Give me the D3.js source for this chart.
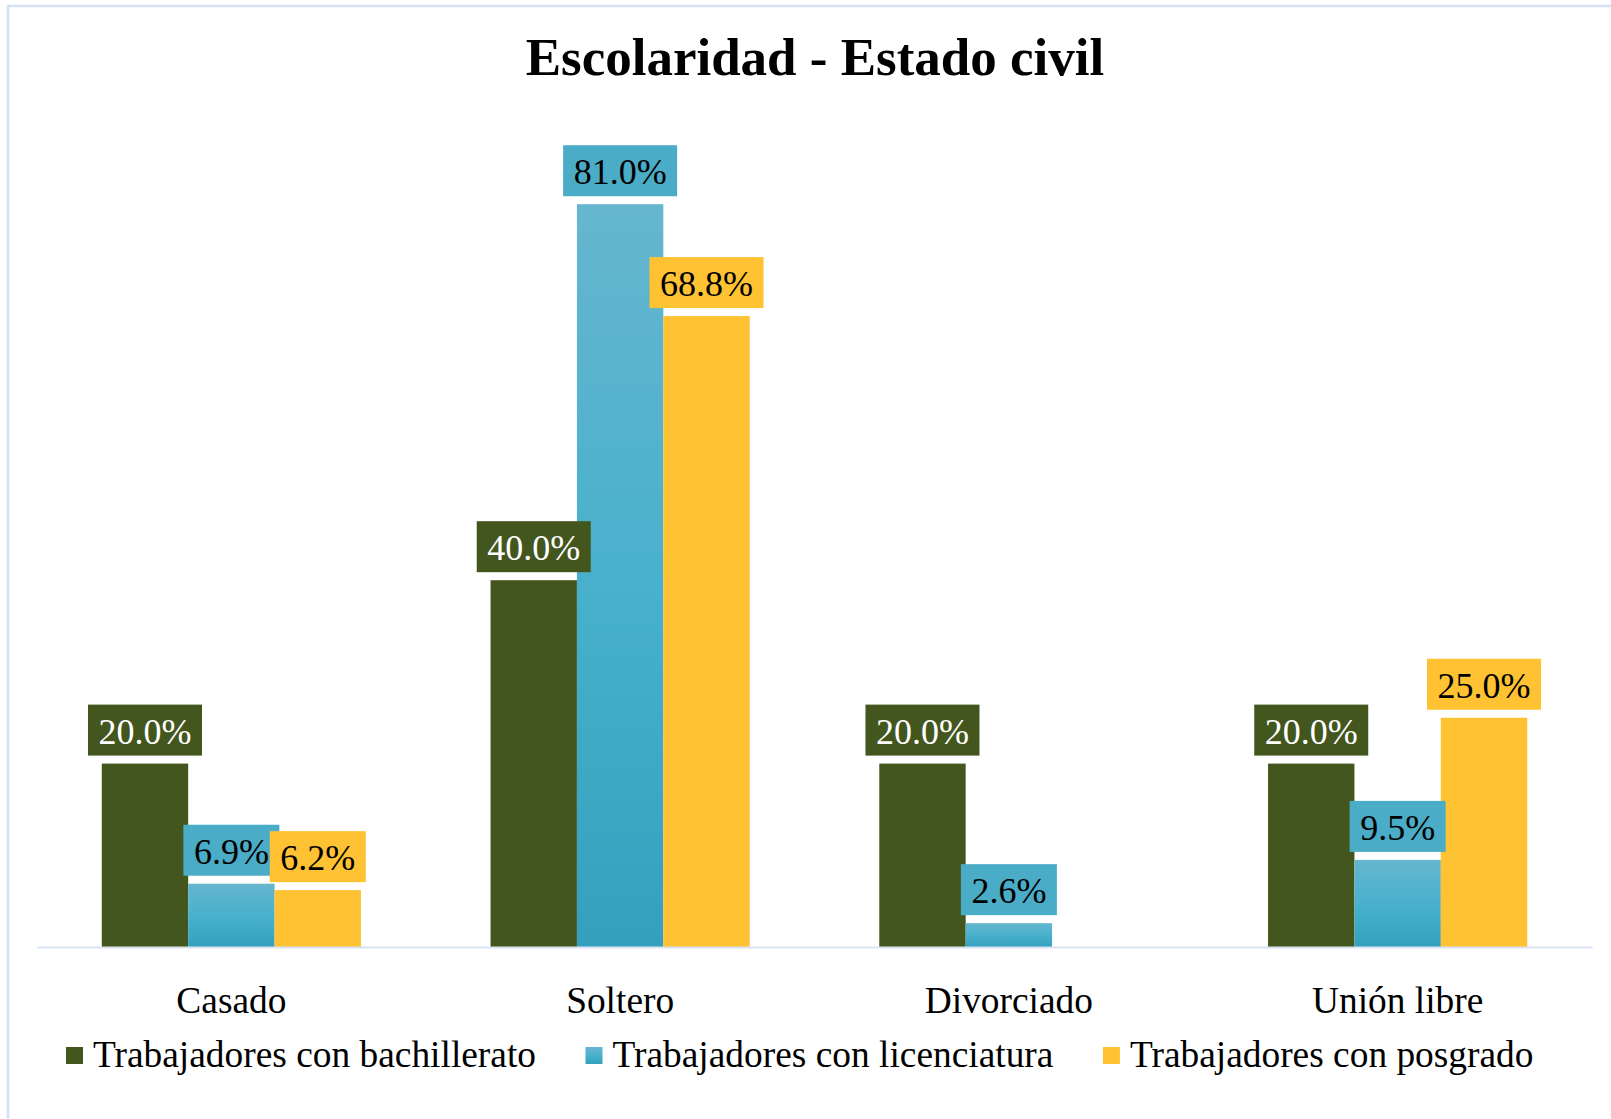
<!DOCTYPE html>
<html>
<head>
<meta charset="utf-8">
<script src="https://cdn.jsdelivr.net/npm/d3@7/dist/d3.min.js"></script>
<style>
  html, body { margin: 0; padding: 0; background: #ffffff; overflow: hidden; }
  svg { display: block; }
  text { font-family: "Liberation Serif", "Times New Roman", serif; }
</style>
</head>
<body>
<svg id="chart" width="1611" height="1119"></svg>
<script>
// Marital status categories and the share of each education group (percent)
const categories = ["Casado", "Soltero", "Divorciado", "Unión libre"];
const seriesNames = [
  "Trabajadores con bachillerato",
  "Trabajadores con licenciatura",
  "Trabajadores con posgrado"
];
const bachillerato = [20.0, 40.0, 20.0, 20.0];
const licenciatura = [6.9, 81.0, 2.6, 9.5];
const posgrado = [6.2, 68.8, 0, 25.0];
const seriesValues = [bachillerato, licenciatura, posgrado];

const chartTitle = "Escolaridad - Estado civil";

const W = 1611, H = 1119;
const svg = d3.select("#chart");

// Gradient for the licenciatura bars (light at the top, deeper at the base)
const defs = svg.append("defs");
const grad = defs.append("linearGradient")
  .attr("id", "blueFill").attr("x1", 0).attr("y1", 0).attr("x2", 0).attr("y2", 1);
grad.append("stop").attr("offset", "0%").attr("stop-color", "#66b6cf");
grad.append("stop").attr("offset", "55%").attr("stop-color", "#46b0cc");
grad.append("stop").attr("offset", "100%").attr("stop-color", "#35a0bd");

const barFill = ["#43561e", "url(#blueFill)", "#fec232"];
const boxFill = ["#43561e", "#4aacc6", "#fec232"];
const swatchFill = ["#43561e", "url(#blueFill)", "#fec232"];
const labelColor = ["#ffffff", "#000000", "#000000"];

// Outer frame of the chart area
svg.append("rect")
  .attr("x", 8).attr("y", 6)
  .attr("width", W + 40).attr("height", H + 40)
  .attr("fill", "none")
  .attr("stroke", "#d6e2f4")
  .attr("stroke-width", 2.5);

// Scales
const x0 = d3.scaleBand().domain(categories).range([37, 1592]).padding(0);
const bw = x0.bandwidth();
const x1 = d3.scaleBand().domain(d3.range(seriesNames.length))
  .range([bw / 6, bw * 5 / 6]).padding(0);
const y = d3.scaleLinear().domain([0, 90]).range([947, 947 - 9.17 * 90]);

// Title
svg.append("text")
  .attr("x", 815).attr("y", 75)
  .attr("text-anchor", "middle")
  .attr("font-size", 53)
  .attr("font-weight", "bold")
  .attr("fill", "#000")
  .text(chartTitle);

// Bars
const groups = svg.append("g").selectAll("g")
  .data(categories)
  .join("g")
  .attr("transform", d => `translate(${x0(d)},0)`);

groups.selectAll("rect")
  .data((c, ci) => seriesValues.map((vals, si) => ({ si, v: vals[ci] })))
  .join("rect")
  .attr("x", d => x1(d.si))
  .attr("width", x1.bandwidth())
  .attr("y", d => y(d.v))
  .attr("height", d => y(0) - y(d.v))
  .attr("fill", d => barFill[d.si]);

// Category axis line
const axis = d3.axisBottom(x0).tickSize(0).tickPadding(0);
const axisG = svg.append("g").attr("transform", `translate(0,${y(0)})`).call(axis);
axisG.select(".domain").attr("stroke", "#d9e3f3").attr("stroke-width", 2.2);
axisG.selectAll(".tick text")
  .attr("font-family", "Liberation Serif, Times New Roman, serif")
  .attr("font-size", 37.4)
  .attr("fill", "#000")
  .attr("dy", null)
  .attr("y", 1013 - y(0));

// Value labels in filled boxes, drawn after all bars
const fmt = d3.format(".1%");
const labelLayer = svg.append("g");
seriesValues.forEach((vals, si) => {
  categories.forEach((c, ci) => {
    const v = vals[ci];
    if (!v) return;
    const cx = x0(c) + x1(si) + x1.bandwidth() / 2;
    const top = y(v) - 8 - 51;
    const g = labelLayer.append("g");
    const t = g.append("text")
      .attr("x", cx).attr("y", top + 39)
      .attr("text-anchor", "middle")
      .attr("font-size", 36)
      .attr("fill", labelColor[si])
      .text(fmt(v / 100));
    const tw = t.node().getComputedTextLength();
    g.insert("rect", "text")
      .attr("x", cx - tw / 2 - 10.5).attr("y", top)
      .attr("width", tw + 21).attr("height", 51)
      .attr("fill", boxFill[si]);
  });
});

// Legend
const legend = svg.append("g");
let lx = 66;
seriesNames.forEach((name, si) => {
  legend.append("rect")
    .attr("x", lx).attr("y", 1047)
    .attr("width", 17).attr("height", 17)
    .attr("fill", swatchFill[si]);
  const t = legend.append("text")
    .attr("x", lx + 27).attr("y", 1067)
    .attr("font-size", 37.4)
    .attr("fill", "#000")
    .text(name);
  lx += 27 + t.node().getComputedTextLength() + 49.5;
});
</script>
</body>
</html>
